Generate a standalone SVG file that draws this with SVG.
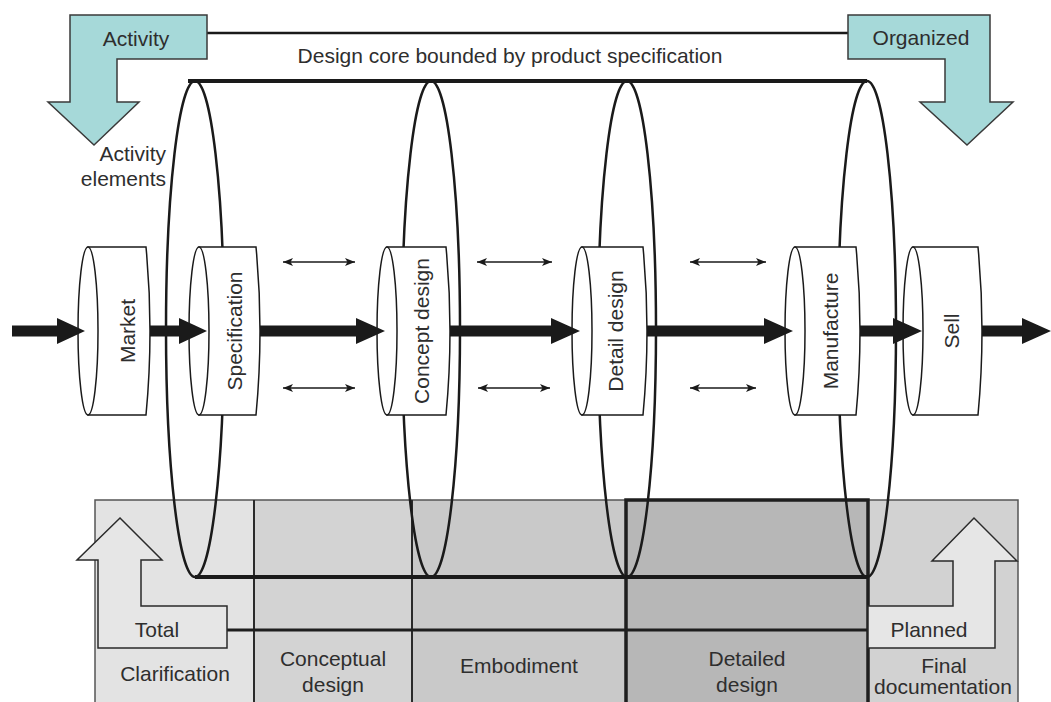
<svg xmlns="http://www.w3.org/2000/svg" width="1051" height="702" viewBox="0 0 1051 702">
  <style>
    text { font-family: "Liberation Sans", Arial, sans-serif; font-size: 21px; fill: #2e2e2e; }
    .mid { text-anchor: middle; }
    .end { text-anchor: end; }
    .teal { fill: #a6d9d9; stroke: #3a3a3a; stroke-width: 1.5; }
    .ring { fill: none; stroke: #1a1a1a; stroke-width: 2.5; }
    .frame { stroke: #1a1a1a; stroke-width: 4; fill: none; }
    .cyl { fill: #ffffff; stroke: #1a1a1a; stroke-width: 1.5; }
    .flow { fill: #1a1a1a; }
    .link { stroke: #1a1a1a; stroke-width: 1.5; fill: none; marker-start: url(#tip); marker-end: url(#tip); }
    .col { stroke: none; }
    .div { stroke: #2a2a2a; stroke-width: 2; fill: none; }
    .hollow { fill: #e6e6e6; stroke: #2a2a2a; stroke-width: 1.5; }
  </style>
  <defs>
    <marker id="tip" viewBox="0 0 10 8" refX="10" refY="4" markerWidth="10" markerHeight="8" orient="auto-start-reverse" markerUnits="userSpaceOnUse">
      <path d="M0,0 L10,4 L0,8 L2.5,4 z" fill="#1a1a1a"/>
    </marker>
  </defs>

  <rect width="1051" height="702" fill="#ffffff"/>

  <!-- phase table -->
  <g id="phase-table">
    <rect class="col" x="95" y="500" width="159" height="202" fill="#e3e3e3"/>
    <rect class="col" x="254" y="500" width="158" height="202" fill="#d3d3d3"/>
    <rect class="col" x="412" y="500" width="214" height="202" fill="#c9c9c9"/>
    <rect class="col" x="626" y="500" width="242" height="202" fill="#b7b7b7"/>
    <rect class="col" x="868" y="500" width="150" height="202" fill="#d2d2d2"/>
    <rect x="95" y="500" width="923" height="210" fill="none" stroke="#555555" stroke-width="1.5"/>
    <line class="div" x1="254" y1="500" x2="254" y2="702"/>
    <line class="div" x1="412" y1="500" x2="412" y2="702"/>
    <rect x="626" y="500" width="242" height="210" fill="none" stroke="#1e1e1e" stroke-width="3.5"/>
    <line x1="227" y1="630" x2="868" y2="630" stroke="#1e1e1e" stroke-width="3"/>
  </g>

  <g id="total-arrow">
    <polygon class="hollow" points="98,648 98,560 77,560 120,518 162,560 141,560 141,606 227,606 227,648"/>
    <text class="mid" x="157" y="637">Total</text>
  </g>
  <g id="planned-arrow">
    <polygon class="hollow" points="868,606 953,606 953,561 932,561 974,518 1017,561 995,561 995,648 868,648" fill="#dcdcdc"/>
    <text class="mid" x="929" y="637">Planned</text>
  </g>

  <g id="phase-labels">
    <text class="mid" x="175" y="681">Clarification</text>
    <text class="mid" x="333" y="666">Conceptual</text>
    <text class="mid" x="333" y="692">design</text>
    <text class="mid" x="519" y="673">Embodiment</text>
    <text class="mid" x="747" y="666">Detailed</text>
    <text class="mid" x="747" y="692">design</text>
    <text class="mid" x="944" y="673">Final</text>
    <text class="mid" x="943" y="694">documentation</text>
  </g>

  <!-- design core: rings joined by top and bottom bounds -->
  <g id="design-core">
    <line class="frame" x1="188" y1="81" x2="867" y2="81"/>
    <line class="frame" x1="195" y1="577" x2="868" y2="577"/>
    <ellipse class="ring" cx="195" cy="329" rx="29" ry="248"/>
    <ellipse class="ring" cx="431" cy="329" rx="29" ry="248"/>
    <ellipse class="ring" cx="627" cy="329" rx="29" ry="248"/>
    <ellipse class="ring" cx="867" cy="329" rx="29" ry="248"/>
    <text class="mid" x="510" y="63">Design core bounded by product specification</text>
  </g>

  <!-- activity / organized headers -->
  <g id="connectors-top">
    <line x1="207" y1="33" x2="848" y2="33" stroke="#1a1a1a" stroke-width="2.5"/>
  </g>
  <g id="activity">
    <polygon class="teal" points="70,15 207,15 207,59 117,59 117,102 139,102 94,145 48,102 70,102"/>
    <text class="mid" x="136" y="46">Activity</text>
  </g>
  <g id="organized">
    <polygon class="teal" points="848,15 990,15 990,102 1013,102 967,145 920,102 945,102 945,59 848,59"/>
    <text class="mid" x="921" y="45">Organized</text>
  </g>
  <g id="activity-elements">
    <text class="end" x="166" y="161">Activity</text>
    <text class="end" x="166" y="186">elements</text>
  </g>

  <!-- stage cylinders -->
  <g id="market">
    <path class="cyl" d="M88,247 L146,247 Q154,331 146,415 L88,415 Z"/>
    <ellipse class="cyl" cx="88" cy="331" rx="10" ry="84"/>
    <text class="mid" transform="translate(135,331) rotate(-90)">Market</text>
  </g>
  <g id="specification">
    <path class="cyl" d="M199,247 L256,247 Q264,331 256,415 L199,415 Z"/>
    <ellipse class="cyl" cx="199" cy="331" rx="10" ry="84"/>
    <text class="mid" transform="translate(242,331) rotate(-90)">Specification</text>
  </g>
  <g id="concept-design">
    <path class="cyl" d="M387,247 L446,247 Q454,331 446,415 L387,415 Z"/>
    <ellipse class="cyl" cx="387" cy="331" rx="10" ry="84"/>
    <text class="mid" transform="translate(429,331) rotate(-90)">Concept design</text>
  </g>
  <g id="detail-design">
    <path class="cyl" d="M582,247 L643,247 Q651,331 643,415 L582,415 Z"/>
    <ellipse class="cyl" cx="582" cy="331" rx="10" ry="84"/>
    <text class="mid" transform="translate(623,331) rotate(-90)">Detail design</text>
  </g>
  <g id="manufacture">
    <path class="cyl" d="M795,247 L856,247 Q864,331 856,415 L795,415 Z"/>
    <ellipse class="cyl" cx="795" cy="331" rx="10" ry="84"/>
    <text class="mid" transform="translate(838,331) rotate(-90)">Manufacture</text>
  </g>
  <g id="sell">
    <path class="cyl" d="M913,247 L978,247 Q986,331 978,415 L913,415 Z"/>
    <ellipse class="cyl" cx="913" cy="331" rx="10" ry="84"/>
    <text class="mid" transform="translate(959,331) rotate(-90)">Sell</text>
  </g>

  <!-- main flow and feedback links -->
  <g id="connectors">
    <polygon class="flow" points="12,325.5 57,325.5 57,318 85,331 57,344 57,336.5 12,336.5"/>
    <polygon class="flow" points="150,325.5 179,325.5 179,318 207,331 179,344 179,336.5 150,336.5"/>
    <polygon class="flow" points="260,325.5 356,325.5 356,318 385,331 356,344 356,336.5 260,336.5"/>
    <polygon class="flow" points="450,325.5 551,325.5 551,318 580,331 551,344 551,336.5 450,336.5"/>
    <polygon class="flow" points="647,325.5 764,325.5 764,318 793,331 764,344 764,336.5 647,336.5"/>
    <polygon class="flow" points="860,325.5 893,325.5 893,318 922,331 893,344 893,336.5 860,336.5"/>
    <polygon class="flow" points="982,325.5 1022,325.5 1022,318 1051,331 1022,344 1022,336.5 982,336.5"/>

    <line class="link" x1="283" y1="262" x2="355" y2="262"/>
    <line class="link" x1="283" y1="388" x2="355" y2="388"/>
    <line class="link" x1="477" y1="262" x2="552" y2="262"/>
    <line class="link" x1="478" y1="388" x2="550" y2="388"/>
    <line class="link" x1="690" y1="262" x2="766" y2="262"/>
    <line class="link" x1="690" y1="388" x2="756" y2="388"/>
  </g>
</svg>
